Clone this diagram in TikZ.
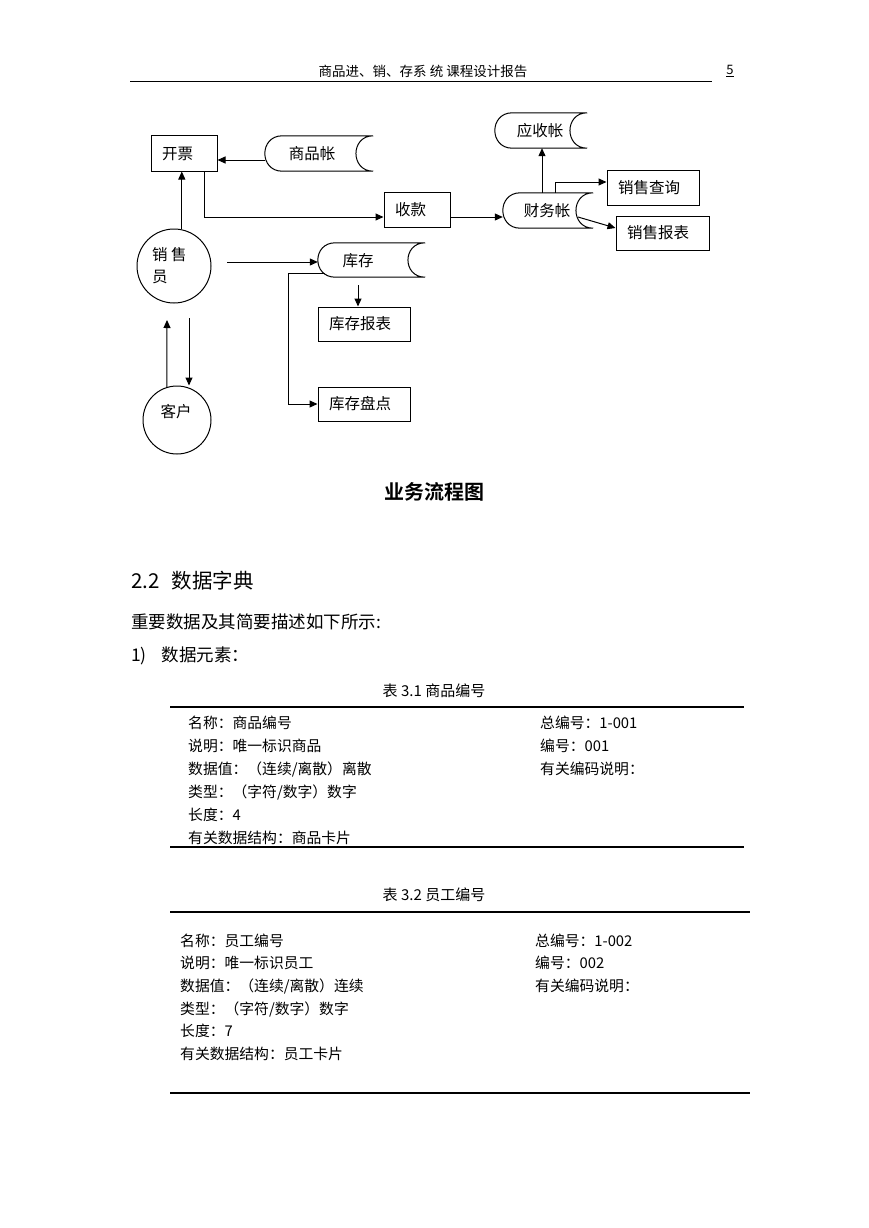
\documentclass[tikz,border=0pt]{standalone}
\usepackage{fontspec}
\setmainfont{Noto Sans CJK SC}[BoldFont={Noto Sans CJK SC Bold}]
\usetikzlibrary{arrows.meta,calc}
\tikzset{
 box/.style={draw, line width=1pt, inner xsep=11pt, inner ysep=0pt, align=left, minimum height=35pt, font=\fontsize{15.5pt}{18pt}\selectfont},
 store/.style={draw=none, inner sep=0pt, minimum height=35pt},
 lbl/.style={inner sep=0pt, font=\fontsize{15.5pt}{18pt}\selectfont},
 circ/.style={draw, circle, line width=1pt, inner sep=0pt},
 arr/.style={line width=1pt, -{Triangle[length=8pt,width=7pt]}},
 ln/.style={line width=1pt},
 rule/.style={line width=1.1pt},
 txt/.style={inner sep=0pt, anchor=west, font=\fontsize{14.8pt}{17pt}\selectfont},
 ctxt/.style={inner sep=0pt, font=\fontsize{15pt}{17pt}\selectfont},
}
\newcommand{\storeshape}[1]{\draw[ln] ($(#1.north west)+(17.5,0)$) -- (#1.north east) .. controls ($(#1.north east)+(-23,0)$) and ($(#1.south east)+(-23,0)$) .. (#1.south east) -- ($(#1.south west)+(17.5,0)$) .. controls ($(#1.south west)+(-5.8,0)$) and ($(#1.north west)+(-5.8,0)$) .. cycle;}
\begin{document}
\begin{tikzpicture}[x=1pt,y=-1pt]
\useasboundingbox (0,0) rectangle (869,1228);
\fill[white] (0,0) rectangle (869,1228);
% header
\node[inner sep=0pt, font=\fontsize{13.5pt}{15pt}\selectfont] (hdr) at (423,71) {商品进、销、存系\ 统\ 课程设计报告};
\node[inner sep=0pt, font=\fontsize{13pt}{15pt}\selectfont] (pg) at (730,71) {\underline{5}};
\draw[line width=0.9pt] (130,81) -- (712,81);
% diagram nodes
\node[box, text width=44pt] (kp) at (184,153.5) {开票};
\node[store, minimum width=108pt] (spz) at (319,153.5) {};
\storeshape{spz}
\node[lbl] (spzt) at (312,154) {商品帐};
\node[box, text width=44pt] (sk) at (417,210) {收款};
\node[circ, minimum size=74pt] (xsy) at (174,266) {};
\node[lbl, align=left, anchor=west, font=\fontsize{15.5pt}{22pt}\selectfont] (xsyt) at (152,266) {销\ 售\\员};
\node[store, minimum width=107pt, minimum height=34pt] (kc) at (371.5,260) {};
\storeshape{kc}
\node[lbl] (kct) at (358,261) {库存};
\node[box, text width=70pt, minimum height=34pt] (kcbb) at (364,324) {库存报表};
\node[box, text width=70pt, minimum height=34pt] (kcpd) at (364,404) {库存盘点};
\node[circ, minimum size=68pt] (kh) at (177,420) {};
\node[lbl] (kht) at (176,412) {客户};
\node[store, minimum width=92pt] (ysz) at (541,130.5) {};
\storeshape{ysz}
\node[lbl] (yszt) at (540,131) {应收帐};
\node[store, minimum width=90pt] (cwz) at (548,210.5) {};
\storeshape{cwz}
\node[lbl] (cwzt) at (547,211) {财务帐};
\node[box, text width=70pt] (xscx) at (653,187.5) {销售查询};
\node[box, text width=71pt, minimum height=34pt] (xsbb) at (662.5,233) {销售报表};
% connectors
\draw[arr] ([yshift=-6.5pt]spz.west) -- ([yshift=-6.5pt]kp.east);
\draw[arr] ([xshift=20pt]kp.south) |- ([yshift=-7pt]sk.west);
\draw[arr] (xsy.78) -- (xsy.78 |- kp.south);
\coordinate (c1) at (227,262);
\draw[arr] (c1) -- (c1 -| kc.west);
\coordinate (c2) at (325,273);
\draw[arr] (c2) -- ++(-37,0) |- (kcpd.west);
\coordinate (c3) at (358,285);
\draw[arr] (c3) -- (c3 |- kcbb.north);
\coordinate (c5) at (167,320);
\draw[arr] (kh.107) -- (c5);
\coordinate (c6) at (189,318);
\draw[arr] (c6) -- (c6 |- kh.north);
\draw[arr] ([yshift=-7pt]sk.east) -- ([yshift=-7pt]sk.east -| cwz.west);
\draw[arr] ([xshift=-6pt]cwz.north) -- ([xshift=-6pt]cwz.north |- ysz.south);
\draw[arr] ([xshift=7pt]cwz.north) |- ([yshift=5.5pt]xscx.west);
\coordinate (c8) at (578,217);
\draw[arr] (c8) -- ([yshift=5pt]xsbb.west);
% caption and text
\node[inner sep=0pt, font=\fontsize{20pt}{24pt}\selectfont\bfseries] (cap) at (434,492) {业务流程图};
\node[inner sep=0pt, anchor=west, font=\fontsize{20.5pt}{24pt}\selectfont] (sec) at (131,581) {2.2\hspace{12pt}数据字典};
\node[inner sep=0pt, anchor=west, font=\fontsize{17.5pt}{20pt}\selectfont] (intro) at (131,622) {重要数据及其简要描述如下所示:};
\node[inner sep=0pt, anchor=west, font=\fontsize{17.5pt}{20pt}\selectfont] (item) at (131,656) {1)\hspace{15pt}数据元素：};
% table 3.1
\node[ctxt] (t1cap) at (434,691) {表\ 3.1\ 商品编号};
\draw[rule] (170,707) -- (744,707);
\node[txt] (t1a) at (188,723) {名称：商品编号};
\node[txt] (t1b) at (188,746) {说明：唯一标识商品};
\node[txt] (t1c) at (188,769) {数据值：（连续/离散）离散};
\node[txt] (t1d) at (188,792) {类型：（字符/数字）数字};
\node[txt] (t1e) at (188,815) {长度：4};
\node[txt] (t1f) at (188,838) {有关数据结构：商品卡片};
\node[txt] (t1g) at (540,723) {总编号：1-001};
\node[txt] (t1h) at (540,746) {编号：001};
\node[txt] (t1i) at (540,769) {有关编码说明：};
\draw[rule] (170,847) -- (744,847);
% table 3.2
\node[ctxt] (t2cap) at (434,895) {表\ 3.2\ 员工编号};
\draw[rule] (170,912) -- (750,912);
\node[txt] (t2a) at (180,941) {名称：员工编号};
\node[txt] (t2b) at (180,963) {说明：唯一标识员工};
\node[txt] (t2c) at (180,986) {数据值：（连续/离散）连续};
\node[txt] (t2d) at (180,1009) {类型：（字符/数字）数字};
\node[txt] (t2e) at (180,1031) {长度：7};
\node[txt] (t2f) at (180,1054) {有关数据结构：员工卡片};
\node[txt] (t2g) at (535,941) {总编号：1-002};
\node[txt] (t2h) at (535,963) {编号：002};
\node[txt] (t2i) at (535,986) {有关编码说明：};
\draw[rule] (170,1093) -- (750,1093);
\end{tikzpicture}
\end{document}
